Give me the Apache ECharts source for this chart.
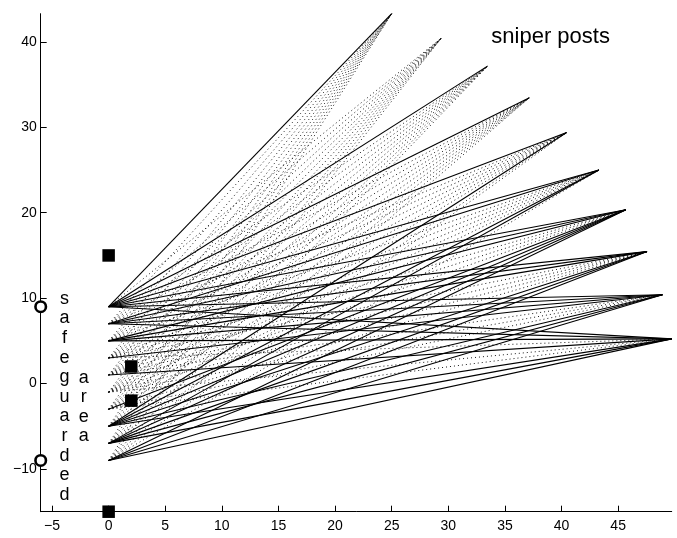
<!DOCTYPE html>
<html>
<head>
<meta charset="utf-8">
<script src="https://cdn.jsdelivr.net/npm/echarts@6/dist/echarts.min.js"></script>
<style>
html,body{margin:0;padding:0;background:#fff;}
#c{width:677px;height:538px;}
</style>
</head>
<body>
<div id="c"></div>
<script>
// sniper posts (on an arc)
var postX = [49.73, 48.91, 47.55, 45.68, 43.30, 40.45, 37.16, 33.46, 29.39, 25.00];
var postY = [5.23, 10.40, 15.45, 20.34, 25.00, 29.39, 33.46, 37.16, 40.45, 43.30];
// source points on x = 0
var sourceX = 0;
var sourceY = [9, 7, 5, 3, 1, -1, -3, -5, -7, -9];
// for each source, the posts reached by a solid line (indices into posts); others dotted
var solidLinks = [
  [0, 1, 2, 3, 4, 5, 6, 7, 9],
  [0, 1, 2, 3, 4],
  [0, 1, 2, 3],
  [1],
  [0],
  [],
  [3],
  [0, 1, 2, 3, 4, 5],
  [0, 1, 2, 3, 4],
  [0, 1, 2, 3]
];
// obstacles (filled squares) and safeguarded-area ends (open circles)
var squareX = [0, 2, 2, 0];
var squareY = [15, 2, -2, -15];
var circleX = [-6, -6];
var circleY = [9, -9];
// tick labels
var xTicks = [-5, 0, 5, 10, 15, 20, 25, 30, 35, 40, 45];
var yTicks = [-10, 0, 10, 20, 30, 40];
// texts
var postLabel = {x: 33.8, y: 40.6, text: 'sniper posts'};
var sideLabels = [
  {x: -3.9, y: -1.55, text: 'safeguarded'},
  {x: -2.2, y: -2.75, text: 'area'}
];

var solidData = [], dottedData = [];
for (var s = 0; s < sourceY.length; s++) {
  for (var p = 0; p < postX.length; p++) {
    var seg = {coords: [[sourceX, sourceY[s]], [postX[p], postY[p]]]};
    if (solidLinks[s].indexOf(p) >= 0) solidData.push(seg); else dottedData.push(seg);
  }
}
var FONT = '"Liberation Sans", Arial, Helvetica, sans-serif';
function fmt(v) { return v < 0 ? '\u2212' + Math.abs(v) : String(v); }

var chart = echarts.init(document.getElementById('c'), null, {renderer: 'canvas'});
chart.setOption({
  animation: false,
  backgroundColor: '#fff',
  grid: {left: 40.7, right: 5.3, top: 13.7, bottom: 26.3, containLabel: false},
  xAxis: {
    type: 'value', min: -6, max: 49.73,
    axisLine: {show: true, onZero: false, lineStyle: {color: '#000', width: 1}},
    axisTick: {show: true, inside: true, length: 6, customValues: xTicks, lineStyle: {color: '#000'}},
    axisLabel: {customValues: xTicks, color: '#000', fontSize: 14, fontFamily: FONT, margin: 7, formatter: fmt},
    splitLine: {show: false}
  },
  yAxis: {
    type: 'value', min: -15, max: 43.3,
    axisLine: {show: true, onZero: false, lineStyle: {color: '#000', width: 1}},
    axisTick: {show: true, inside: true, length: 6, customValues: yTicks, lineStyle: {color: '#000'}},
    axisLabel: {customValues: yTicks, color: '#000', fontSize: 14, fontFamily: FONT, margin: 4, formatter: fmt},
    splitLine: {show: false}
  },
  series: [
    {
      type: 'lines', coordinateSystem: 'cartesian2d', silent: true,
      lineStyle: {color: '#000', width: 1, type: [1, 3], opacity: 0.9},
      data: dottedData, z: 1
    },
    {
      type: 'lines', coordinateSystem: 'cartesian2d', silent: true,
      lineStyle: {color: '#000', width: 1.1, type: 'solid', opacity: 1},
      data: solidData, z: 2
    },
    {
      type: 'scatter', symbol: 'rect', symbolSize: 12.5, clip: false, silent: true,
      itemStyle: {color: '#000', opacity: 1},
      data: squareX.map(function (x, i) { return [x, squareY[i]]; }), z: 5
    },
    {
      type: 'scatter', symbol: 'circle', symbolSize: 10.5, clip: false, silent: true,
      itemStyle: {color: '#fff', borderColor: '#000', borderWidth: 2.6, opacity: 1},
      data: circleX.map(function (x, i) { return [x, circleY[i]]; }), z: 5
    },
    {
      type: 'scatter', symbolSize: 0, silent: true, clip: false,
      itemStyle: {opacity: 1},
      data: [[postLabel.x, postLabel.y, postLabel.text]],
      label: {show: true, position: 'inside', align: 'left', verticalAlign: 'middle',
        color: '#000', fontSize: 22, fontFamily: FONT,
        formatter: function (pr) { return pr.value[2]; }},
      z: 6
    },
    {
      type: 'scatter', symbolSize: 0, silent: true, clip: false,
      itemStyle: {opacity: 1},
      data: sideLabels.map(function (l) { return [l.x, l.y, l.text.split('').join('\n')]; }),
      label: {show: true, position: 'inside', align: 'center', verticalAlign: 'middle',
        color: '#000', fontSize: 18, lineHeight: 19.6, fontFamily: FONT,
        formatter: function (pr) { return pr.value[2]; }},
      z: 6
    }
  ]
});
</script>
</body>
</html>
